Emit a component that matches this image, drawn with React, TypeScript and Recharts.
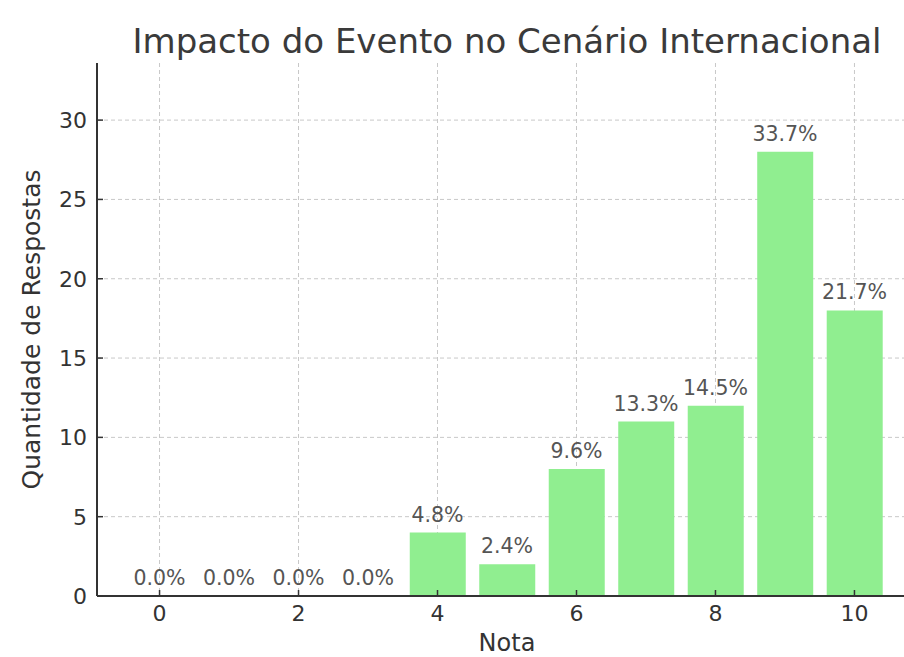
import { ComposedChart, Bar, Line, XAxis, YAxis, CartesianGrid, LabelList } from 'recharts'

// notas de 0 a 10 e quantidade de respostas
const NOTAS = [0, 1, 2, 3, 4, 5, 6, 7, 8, 9, 10]
const RESPOSTAS = [0, 0, 0, 0, 4, 2, 8, 11, 12, 28, 18]
const X_TICKS = [0, 2, 4, 6, 8, 10]
const Y_TICKS = [0, 5, 10, 15, 20, 25, 30]

const TOTAL = RESPOSTAS.reduce((s, v) => s + v, 0)
const data = NOTAS.map((nota, i) => ({ nota, respostas: RESPOSTAS[i] }))

const FONT = '"DejaVu Sans", sans-serif'
const TICK_LEN = 6

// ticks voltados para dentro, como no matplotlib
function XTick({ x, y, payload }: any) {
  return (
    <g>
      <line x1={x} x2={x} y1={y} y2={y - TICK_LEN} stroke="#333" strokeWidth={1.5} />
      <text x={x} y={y + 25} textAnchor="middle" fontSize={22} fill="#333" fontFamily={FONT}>
        {payload.value}
      </text>
    </g>
  )
}

function YTick({ x, y, payload }: any) {
  return (
    <g>
      <line x1={x} x2={x + TICK_LEN} y1={y} y2={y} stroke="#333" strokeWidth={1.5} />
      <text x={x - 10} y={y + 8} textAnchor="end" fontSize={22} fill="#333" fontFamily={FONT}>
        {payload.value}
      </text>
    </g>
  )
}

export default function App() {
  return (
    <div
      style={{
        position: 'absolute',
        left: 0,
        top: 0,
        width: 904,
        height: 657,
        overflow: 'hidden',
        background: '#fff',
        fontFamily: FONT,
      }}
    >
      <div
        style={{
          position: 'absolute',
          left: 0,
          width: 1014,
          top: 21,
          textAlign: 'center',
          fontSize: 34,
          color: '#3a3a3a',
          lineHeight: '40px',
          whiteSpace: 'nowrap',
        }}
      >
        Impacto do Evento no Cenário Internacional
      </div>
      <ComposedChart
        width={940}
        height={657}
        data={data}
        margin={{ top: 63, right: 23, left: 0, bottom: 0 }}
        style={{ position: 'absolute', left: 0, top: 0, fontFamily: FONT }}
      >
        <XAxis
          dataKey="nota"
          type="number"
          domain={[-0.9, 10.9]}
          allowDataOverflow
          ticks={X_TICKS}
          height={61}
          stroke="#333"
          strokeWidth={2}
          tickLine={false}
          tickSize={0}
          tickMargin={0}
          tick={<XTick />}
          label={{ value: 'Nota', position: 'center', dy: 16, fontSize: 24, fill: '#333' }}
        />
        <YAxis
          type="number"
          domain={[0, 33.6]}
          allowDataOverflow
          ticks={Y_TICKS}
          width={97}
          stroke="#333"
          strokeWidth={2}
          tickLine={false}
          tickSize={0}
          tickMargin={0}
          tick={<YTick />}
          label={{
            value: 'Quantidade de Respostas',
            angle: -90,
            position: 'center',
            dx: -17,
            fontSize: 25,
            fill: '#333',
          }}
        />
        <Bar dataKey="respostas" fill="#90ee90" barSize={56} isAnimationActive={false} />
        <CartesianGrid stroke="#c8c8c8" strokeDasharray="4 3" horizontalValues={Y_TICKS} verticalValues={X_TICKS} />
        {/* linha invisível só para escrever os percentuais, inclusive nas barras zeradas */}
        <Line
          dataKey="respostas"
          stroke="none"
          dot={false}
          activeDot={false}
          isAnimationActive={false}
        >
          <LabelList
            dataKey="respostas"
            position="top"
            offset={11}
            formatter={(v: number) => `${((v / TOTAL) * 100).toFixed(1)}%`}
            style={{ fontSize: 20.5, fill: '#555', fontFamily: FONT }}
          />
        </Line>
      </ComposedChart>
    </div>
  )
}
